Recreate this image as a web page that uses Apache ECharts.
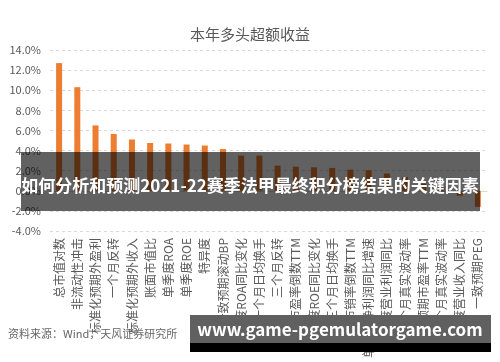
<!DOCTYPE html>
<html>
<head>
<meta charset="utf-8">
<script src="https://cdn.jsdelivr.net/npm/echarts@6/dist/echarts.min.js"></script>
<style>
html,body{margin:0;padding:0;background:#fff;}
#c{width:500px;height:362px;}
</style>
</head>
<body>
<div id="c"></div>
<script>
const titleText = '本年多头超额收益';
const categories = ['总市值对数','非流动性冲击','标准化预期外盈利','一个月反转','标准化预期外收入','账面市值比','单季度ROA','单季度ROE','特异度','一致预期滚动BP','单季度ROA同比变化','一个月日均换手','三个月反转','市盈率倒数TTM','单季度ROE同比变化','三个月日均换手','市销率倒数TTM','单季度净利润同比增速','单季度营业利润同比','三个月真实波动率','一致预期市盈率TTM','一个月真实波动率','单季度营业收入同比','一致预期PEG'];
const excessReturn = [12.7,10.3,6.5,5.65,5.1,4.75,4.7,4.6,4.5,4.15,3.5,3.5,2.5,2.4,2.33,2.27,2.1,2.05,1.72,1.35,0.7,0.3,-0.5,-1.6];
const yTicks = {min:-4, max:14, interval:2};
const sourceText = '资料来源：Wind，天风证券研究所';
const bannerText = '如何分析和预测2021-22赛季法甲最终积分榜结果的关键因素';
const footerText = 'www.game-pgemulatorgame.com';

const FONT = '"Noto Sans CJK SC","Noto Sans",sans-serif';
const chart = echarts.init(document.getElementById('c'), null, {renderer:'canvas'});
chart.setOption({
  animation:false,
  backgroundColor:'#fff',
  title:{text:titleText, left:'center', top:22, textStyle:{fontFamily:FONT, fontSize:15, fontWeight:'normal', color:'#595959'}},
  grid:{left:50, right:13, top:50, height:181},
  xAxis:{type:'category', data:categories, boundaryGap:true,
    axisLine:{show:true, lineStyle:{color:'#d9d9d9'}}, axisTick:{show:false},
    axisLabel:{rotate:90, interval:0, margin:7, fontFamily:FONT, fontSize:12, color:'#595959'}},
  yAxis:{type:'value', min:yTicks.min, max:yTicks.max, interval:yTicks.interval,
    axisLine:{show:false}, axisTick:{show:false},
    axisLabel:{formatter:v=>v.toFixed(1)+'%', fontFamily:FONT, fontSize:11, color:'#595959', margin:9},
    splitLine:{lineStyle:{color:'#d9d9d9', type:[3,3]}}},
  series:[{type:'bar', data:excessReturn, barWidth:6, itemStyle:{color:'#ED7D31'}}],
  graphic:[
    {type:'rect', z:100, shape:{x:21, y:152, width:459, height:59}, style:{fill:'rgba(0,0,0,0.62)'}},
    {type:'text', z:101, x:250, y:186, style:{text:bannerText, fill:'#fff', font:'bold 17px '+FONT, textAlign:'center', textVerticalAlign:'middle'}},
    {type:'text', z:101, x:8, y:334, style:{text:sourceText, fill:'#666', font:'11px '+FONT, textVerticalAlign:'middle'}},
    {type:'rect', z:100, shape:{x:190, y:315, width:301, height:28}, style:{fill:'#606060'}},
    {type:'rect', z:100, shape:{x:190, y:343, width:301, height:9}, style:{fill:'#000'}},
    {type:'text', z:101, x:340, y:330, style:{text:footerText, fill:'#fff', font:'bold 17px '+FONT, textAlign:'center', textVerticalAlign:'middle'}}
  ]
});
</script>
</body>
</html>
